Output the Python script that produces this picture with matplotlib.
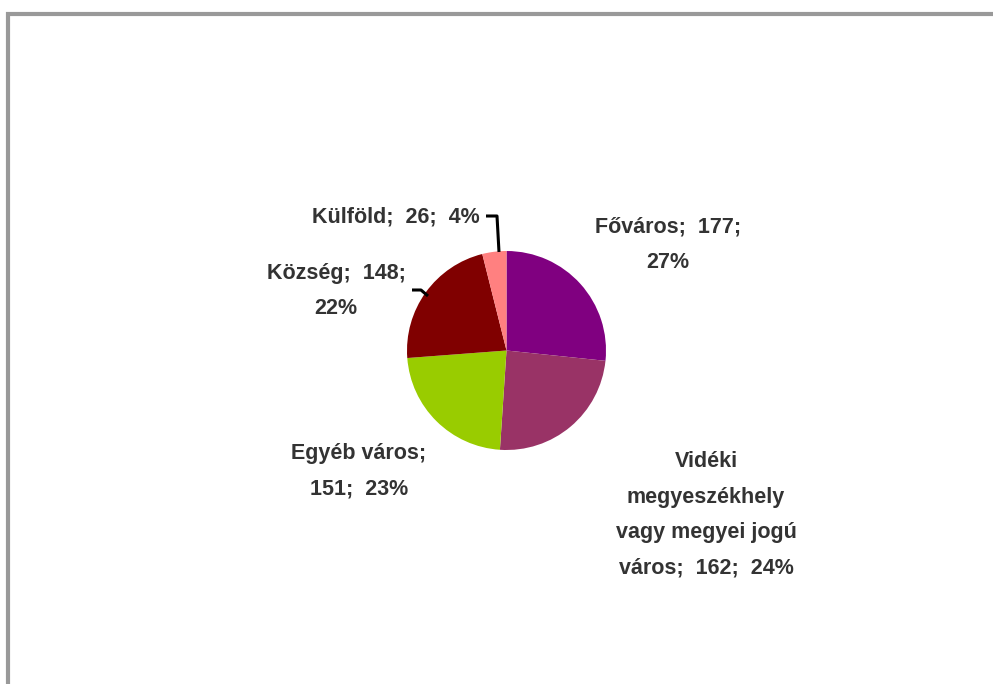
import matplotlib.pyplot as plt
from matplotlib.patches import Rectangle

plt.rcParams['font.family'] = ['Liberation Sans', 'DejaVu Sans']

categories = ['Főváros', 'Vidéki megyeszékhely vagy megyei jogú város',
              'Egyéb város', 'Község', 'Külföld']
values = [177, 162, 151, 148, 26]
percents = [27, 24, 23, 22, 4]
colors = ['#800080', '#993366', '#99CC00', '#800000', '#FF8080']

label_texts = [
    'Főváros;  177;\n27%',
    'Vidéki\nmegyeszékhely\nvagy megyei jogú\nváros;  162;  24%',
    'Egyéb város;\n151;  23%',
    'Község;  148;\n22%',
    'Külföld;  26;  4%',
]

W, H = 993, 684
fig = plt.figure(figsize=(W / 100, H / 100), dpi=100)
ax = fig.add_axes([0, 0, 1, 1])

# frame (only top and left edges visible in the crop)
fig.patches.append(Rectangle((7.5 / W, -0.1), 1.2, (H - 13.5) / H + 0.1,
                             transform=fig.transFigure, fill=False,
                             edgecolor='#999999', linewidth=3))

# work in pixel units, y measured from the top
cx, cy, r = 506.5, 350.5, 99.5
ax.pie(values, colors=colors, startangle=90, counterclock=False,
       center=(cx, H - cy), radius=r, wedgeprops=dict(linewidth=0))
ax.set_xlim(0, W)
ax.set_ylim(0, H)
ax.set_aspect('equal')
ax.axis('off')

label_pos = [(668, 245), (706, 515), (359, 471), (336, 291), (396, 217)]
for txt, (x, y) in zip(label_texts, label_pos):
    ax.text(x, H - y, txt, ha='center', va='center', fontsize=15.5,
            fontweight='bold', color='#333333', linespacing=1.9)

# leader lines
ax.plot([486, 497, 499], [H - 216, H - 216, H - 252], color='black', lw=2.2,
        solid_capstyle='butt')
ax.plot([412, 421, 428], [H - 290, H - 290, H - 296], color='black', lw=2.2,
        solid_capstyle='butt')

fig.savefig('out.png', dpi=100)
